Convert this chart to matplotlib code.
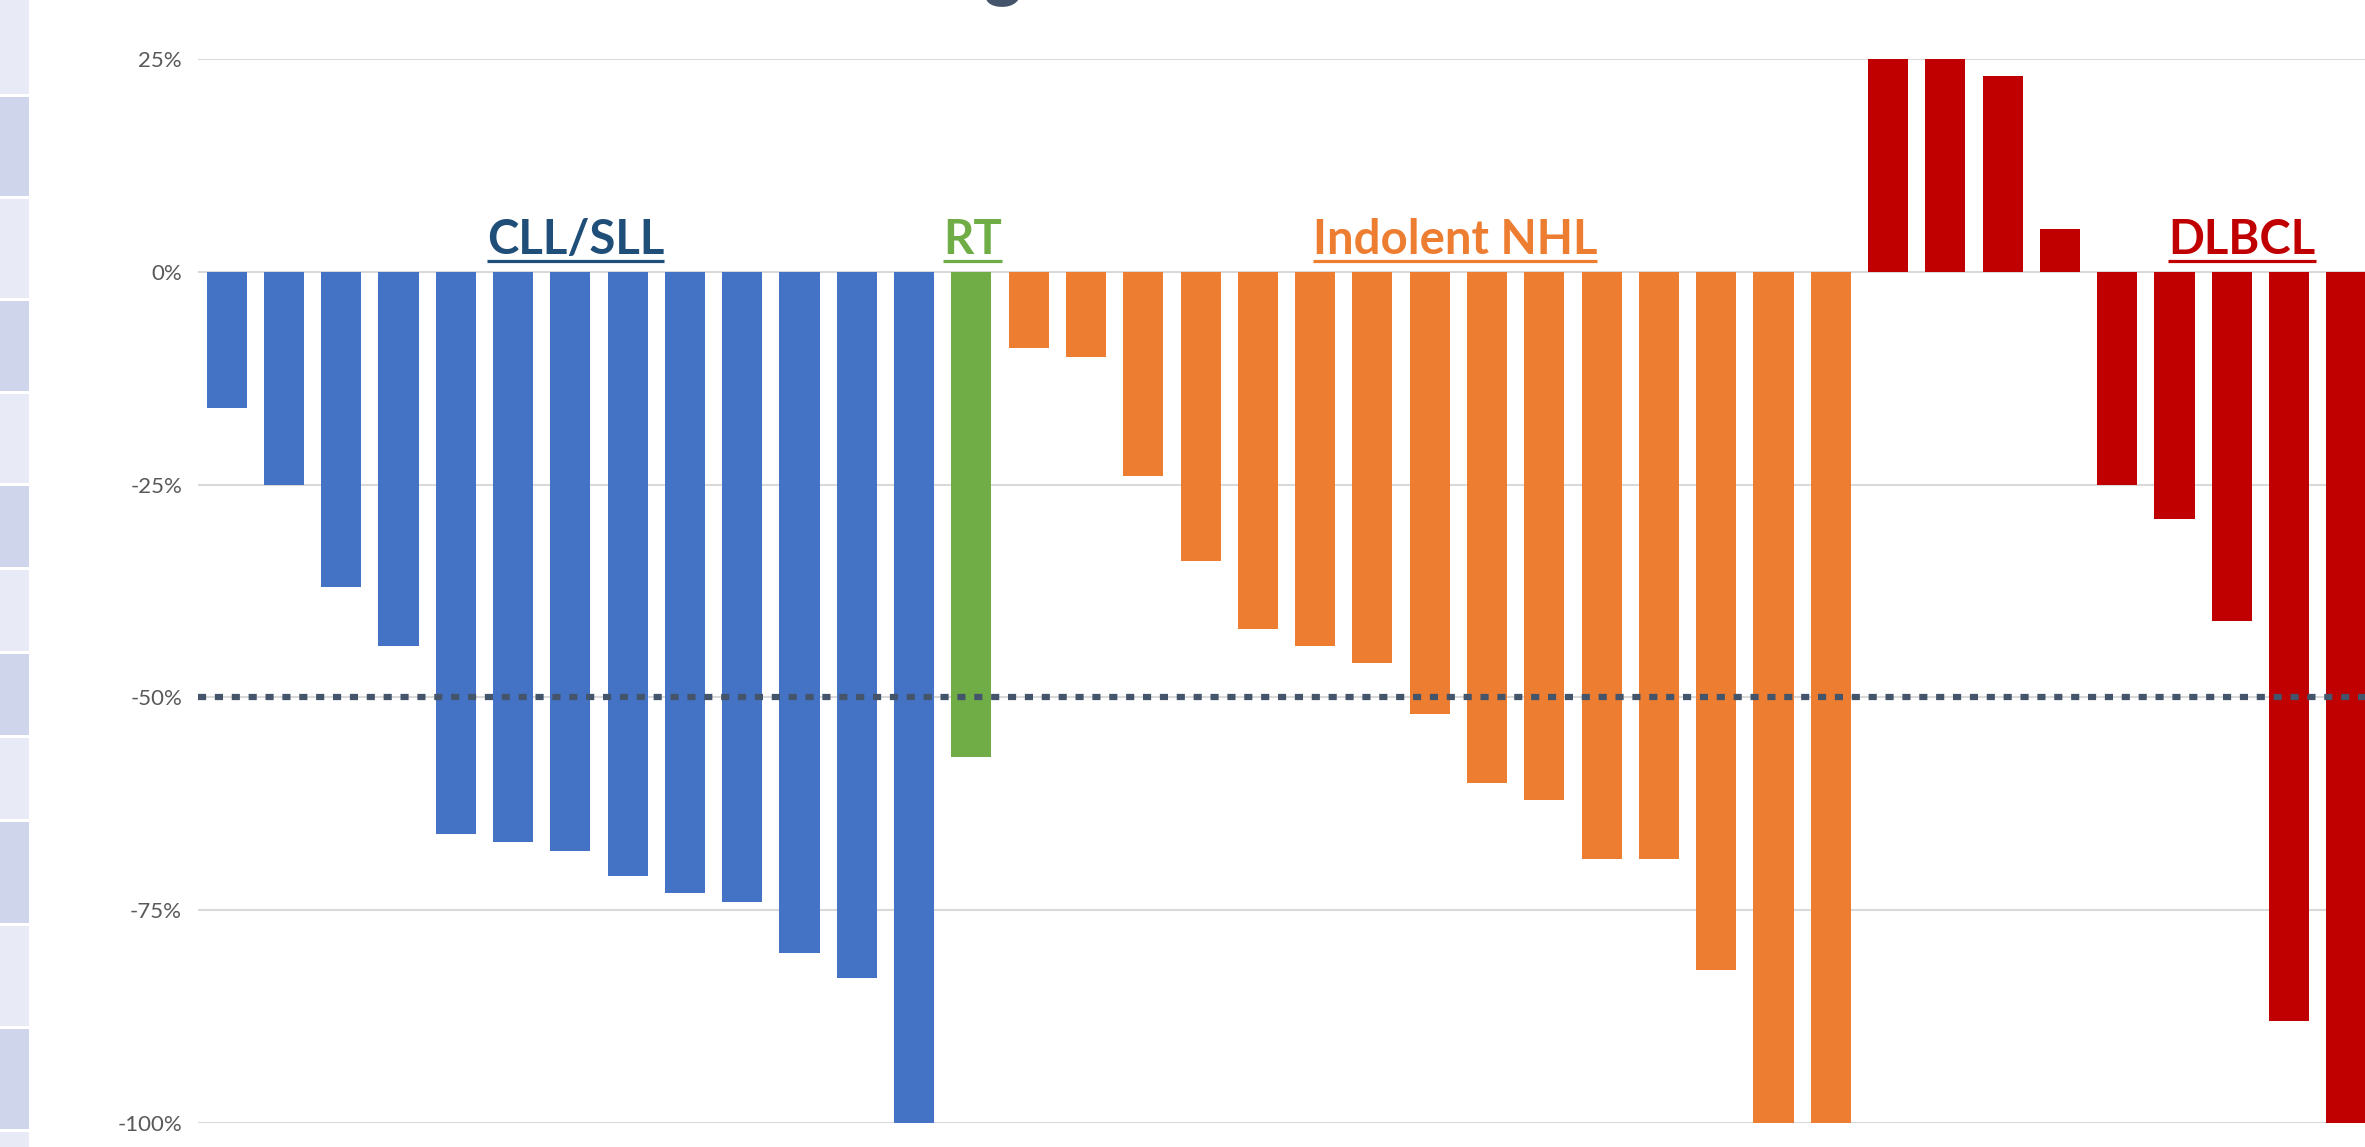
import matplotlib
matplotlib.use('Agg')
import matplotlib.pyplot as plt
from matplotlib.patches import Rectangle
from matplotlib.font_manager import FontProperties, findfont

# ---- data ----
cll_values = [-16, -25, -37, -44, -66, -67, -68, -71, -73, -74, -80, -83, -100]
rt_values = [-57]
nhl_values = [-9, -10, -24, -34, -42, -44, -46, -52, -60, -62, -69, -69, -82, -100, -100]
dlbcl_values = [25, 25, 23, 5, -25, -29, -41, -88, -100]

group_values = [cll_values, rt_values, nhl_values, dlbcl_values]
group_names = ['CLL/SLL', 'RT', 'Indolent NHL', 'DLBCL']
group_colors = ['#4472C4', '#70AD47', '#ED7D31', '#C00000']
label_colors = ['#1F4E79', '#70AD47', '#ED7D31', '#C00000']
label_x = [6.09, 13.02, 21.44, 35.18]

yticks = [-100, -75, -50, -25, 0, 25]
ytick_labels = ['-100%', '-75%', '-50%', '-25%', '0%', '25%']
threshold = -50

# ---- font ----
def pick(names):
    for n in names:
        try:
            findfont(FontProperties(family=n), fallback_to_default=False)
            return n
        except Exception:
            pass
    return 'DejaVu Sans'

FONT = pick(['Lato', 'Open Sans', 'Noto Sans', 'DejaVu Sans'])
plt.rcParams['font.family'] = [FONT, 'DejaVu Sans']

W, H = 2365, 1147
fig = plt.figure(figsize=(W / 100, H / 100), dpi=100)
fig.patch.set_facecolor('white')

# left strip of cells (part of the screenshot)
cells = [(0, 94, 'l'), (97, 196, 'd'), (199, 298, 'l'), (301, 391, 'd'),
         (394, 483, 'l'), (486, 567, 'd'), (570, 651, 'l'), (654, 735, 'd'),
         (738, 819, 'l'), (822, 923, 'd'), (926, 1026, 'l'), (1029, 1129, 'd'),
         (1132, 1160, 'l')]
for top, bot, kind in cells:
    fig.add_artist(Rectangle((0, 1 - bot / H), 29 / W, (bot - top) / H,
                             transform=fig.transFigure,
                             facecolor='#E8EBF5' if kind == 'l' else '#CFD5EA',
                             edgecolor='none'))

ax = fig.add_axes([198 / W, 24 / H, (2375 - 198) / W, (1123 - 59) / H])

x = 0
for vals, col in zip(group_values, group_colors):
    xs = list(range(x, x + len(vals)))
    ax.bar(xs, vals, width=0.7, color=col, zorder=2)
    x += len(vals)
n_total = x

ax.set_xlim(-0.5, n_total - 0.5)
ax.set_ylim(-100, 25)
ax.set_yticks(yticks)
ax.set_yticklabels(ytick_labels)
ax.tick_params(axis='y', length=0, pad=11.5, labelsize=16, labelcolor='#595959')
ax.tick_params(axis='x', length=0, labelbottom=False)
ax.set_xticks([])
for s in ax.spines.values():
    s.set_visible(False)
for t in yticks:
    ax.axhline(t, color='#D9D9D9', lw=1.5, zorder=1)

ax.axhline(threshold, color='#44546A', lw=4.5, dashes=(1.3, 1.4),
           dash_capstyle='butt', zorder=3)

# group labels with underline
texts = []
for name, col, lx in zip(group_names, label_colors, label_x):
    t = ax.text(lx, 2.1, name, ha='center', va='baseline', fontsize=34,
                fontweight='bold', color=col, zorder=4)
    texts.append((t, col))

fig.canvas.draw()
r = fig.canvas.get_renderer()
inv = ax.transData.inverted()
for t, col in texts:
    bb = t.get_window_extent(r)
    x0 = inv.transform((bb.x0, 0))[0]
    x1 = inv.transform((bb.x1, 0))[0]
    ax.plot([x0, x1], [1.27, 1.27], color=col, lw=2.3, solid_capstyle='butt',
            zorder=4, clip_on=False)

# bottom of a cut-off title letter at the top edge
fig.text(1002 / W, 1 + 8 / H, 'g', ha='center', va='baseline', fontsize=52,
         fontweight='bold', color='#44546A')

fig.savefig('out.png', dpi=100)
